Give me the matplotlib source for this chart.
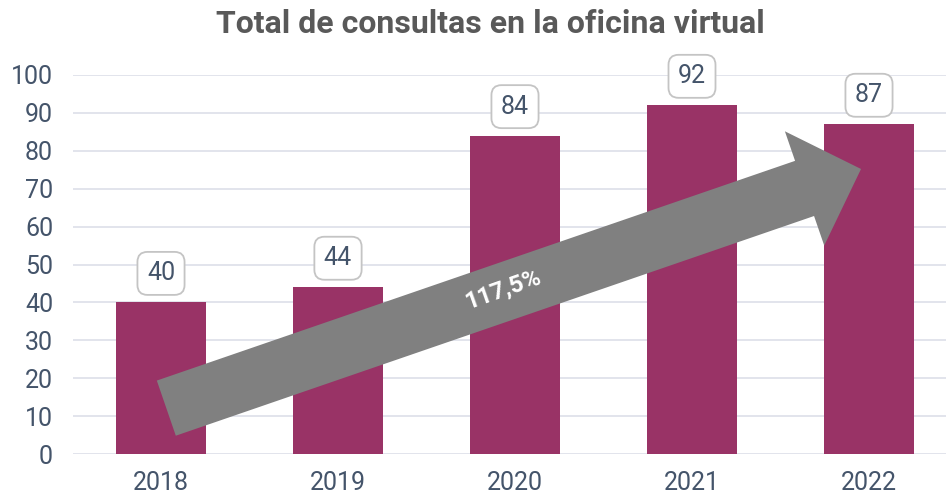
import matplotlib.pyplot as plt

plt.rcParams['font.family'] = ['Roboto', 'DejaVu Sans']

anios = ['2018', '2019', '2020', '2021', '2022']
consultas = [40, 44, 84, 92, 87]
variacion = '117,5%'

color_barra = '#993366'
color_texto = '#44546a'

fig = plt.figure(figsize=(9.46, 4.95), dpi=100)
ax = fig.add_axes([72.5 / 946, 41 / 495, (946 - 72.5) / 946, 379 / 495])

x = range(len(anios))
ax.bar(x, consultas, width=0.51, color=color_barra, zorder=2)

for xi, v in zip(x, consultas):
    ax.annotate(str(v), (xi, v), xytext=(0, 29), textcoords='offset pixels',
                ha='center', va='center', fontsize=18, color=color_texto,
                bbox=dict(boxstyle='round,pad=0.38,rounding_size=0.4', fc='white', ec='#c4c4c4', lw=1.3),
                zorder=5, annotation_clip=False)

ax.set_xlim(-0.5, -0.5 + (946 - 72.5) / 177)
ax.set_ylim(0, 100)
ax.set_yticks(range(0, 101, 10))
ax.set_xticks(list(x))
ax.set_xticklabels(anios)
ax.tick_params(length=0, labelsize=18, colors=color_texto)
ax.tick_params(axis='y', pad=14)
ax.tick_params(axis='x', pad=12)
ax.grid(axis='y', color='#dfe2ea', lw=1.3, zorder=0)
for s in ax.spines.values():
    s.set_visible(False)

# flecha de crecimiento
ax.annotate('', xy=(3.955, 75.2), xytext=(0.03, 12.1),
            arrowprops=dict(arrowstyle='simple,head_length=4.3,head_width=8.7,tail_width=4.2',
                            mutation_scale=10, fc='#808080', ec='none',
                            shrinkA=0, shrinkB=0), zorder=4)
ax.text(1.93, 43.3, variacion, rotation=19.5, ha='center', va='center',
        fontsize=17.5, fontweight='bold', color='white', zorder=6, rotation_mode='anchor')

fig.text(0.518, 0.952, 'Total de consultas en la oficina virtual', ha='center', va='center',
         fontsize=23, fontweight='bold', color='#595959')

fig.savefig('out.png', dpi=100)
